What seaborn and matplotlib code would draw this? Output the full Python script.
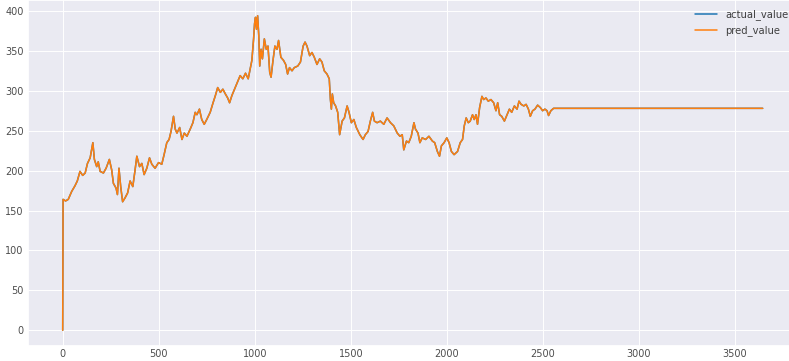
import matplotlib
matplotlib.use("Agg")
import matplotlib.pyplot as plt
import numpy as np
import pandas as pd
import seaborn as sns

# Time step of each observation
steps = [
    0, 2, 15, 29, 47, 64, 76, 90, 104, 117, 129, 143, 157, 165, 177, 185, 195,
    212, 226, 243, 255, 264, 278, 285, 293, 302, 312, 325, 338, 351, 365, 377,
    386, 400, 412, 424, 438, 452, 464, 481, 499, 516, 528, 542, 554, 564, 577,
    586, 595, 609, 621, 633, 647, 664, 678, 690, 699, 712, 724, 737, 750, 768,
    783, 795, 807, 821, 834, 847, 859, 869, 881, 898, 911, 924, 938, 952, 966,
    976, 985, 994, 999, 1004, 1009, 1015, 1021, 1026, 1033, 1040, 1050, 1060,
    1069, 1078, 1085, 1095, 1105, 1116, 1124, 1136, 1150, 1161, 1171, 1181,
    1194, 1206, 1224, 1238, 1252, 1262, 1272, 1286, 1298, 1310, 1324, 1338,
    1350, 1362, 1376, 1388, 1394, 1399, 1404, 1411, 1421, 1432, 1442, 1455,
    1467, 1481, 1491, 1503, 1516, 1529, 1547, 1564, 1576, 1590, 1602, 1614,
    1623, 1637, 1654, 1672, 1689, 1707, 1724, 1742, 1756, 1768, 1776, 1790,
    1802, 1815, 1829, 1837, 1850, 1860, 1872, 1890, 1907, 1925, 1937, 1951,
    1962, 1972, 1986, 2000, 2012, 2024, 2038, 2056, 2070, 2082, 2091, 2101,
    2112, 2122, 2134, 2143, 2152, 2160, 2171, 2183, 2192, 2204, 2216, 2230,
    2244, 2256, 2265, 2275, 2286, 2300, 2314, 2326, 2338, 2352, 2366, 2376,
    2387, 2401, 2413, 2425, 2435, 2447, 2459, 2473, 2487, 2499, 2511, 2522,
    2530, 2542, 2556, 3645,
]

# Observed price
actual_value = [
    0, 164, 162, 164, 174, 181, 187, 199, 194, 197, 209, 216, 235, 214, 205,
    211, 199, 197, 203, 214, 201, 184, 178, 170, 203, 180, 161, 166, 172, 187,
    180, 201, 218, 205, 209, 195, 203, 216, 208, 203, 210, 208, 220, 235, 239,
    249, 268, 252, 247, 254, 239, 247, 243, 252, 260, 273, 270, 277, 264, 258,
    264, 273, 285, 294, 304, 298, 302, 296, 291, 285, 294, 304, 312, 319, 315,
    322, 315, 327, 338, 365, 384, 392, 377, 394, 369, 331, 352, 340, 365, 352,
    356, 323, 317, 338, 356, 352, 363, 342, 338, 333, 321, 329, 325, 329, 331,
    336, 356, 361, 356, 344, 348, 342, 333, 340, 336, 325, 321, 315, 289, 277,
    296, 285, 281, 273, 245, 262, 266, 281, 273, 260, 264, 254, 245, 239, 245,
    249, 262, 273, 262, 260, 262, 258, 266, 260, 256, 247, 243, 245, 226, 237,
    235, 243, 260, 252, 247, 235, 241, 239, 243, 237, 235, 224, 218, 231, 235,
    241, 235, 224, 220, 224, 235, 239, 256, 266, 260, 262, 270, 264, 270, 258,
    279, 293, 289, 291, 287, 289, 285, 275, 285, 270, 268, 262, 270, 277, 273,
    281, 277, 287, 283, 281, 283, 277, 268, 275, 277, 282, 279, 275, 277, 275,
    269, 275, 278, 278,
]

# Model output over the same steps (overlaps the observed series)
pred_value = list(actual_value)

sns.set_theme(style="darkgrid", rc={"grid.linewidth": 0.7})
plt.rcParams["font.family"] = ["DejaVu Sans"]

df = pd.DataFrame({"actual_value": actual_value, "pred_value": pred_value},
                  index=steps)

fig = plt.figure(figsize=(7.89, 3.61), dpi=100)
ax = fig.add_axes([27.7 / 789, 15.0 / 361, 770.0 / 789, 346.0 / 361])

sns.lineplot(data=df, ax=ax, dashes=False, linewidth=1.1,
             palette=["#1f77b4", "#ff7f0e"])

ax.set_xticks([0, 500, 1000, 1500, 2000, 2500, 3000, 3500])
ax.set_yticks([0, 50, 100, 150, 200, 250, 300, 350, 400])
ax.tick_params(axis="both", length=0, labelsize=7, labelcolor="0.3")
ax.tick_params(axis="x", pad=2)
ax.tick_params(axis="y", pad=3)
ax.set_xlabel("")
ax.set_ylabel("")

leg = ax.legend(loc="upper right", frameon=False, fontsize=7.2,
                handlelength=2.2, labelspacing=0.55,
                bbox_to_anchor=(1.0, 1.0))
for t in leg.get_texts():
    t.set_color("0.25")

fig.savefig("out.png", dpi=100)
